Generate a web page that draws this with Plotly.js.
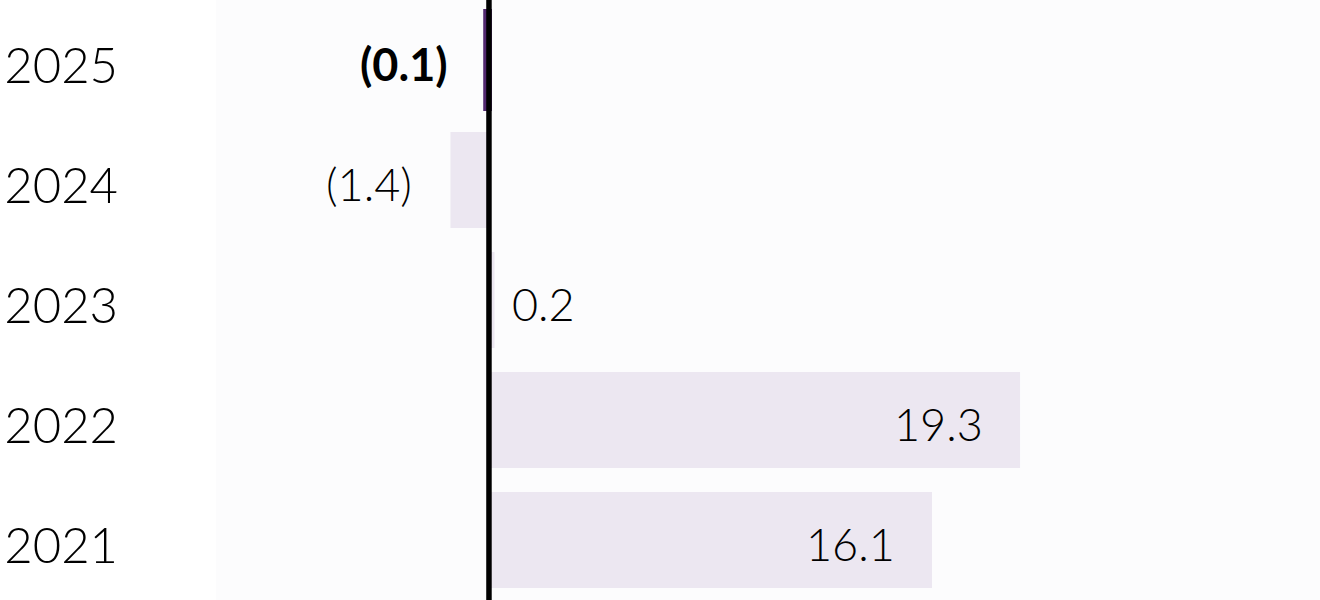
<!DOCTYPE html>
<html>
<head>
<meta charset="utf-8">
<script src="https://cdn.plot.ly/plotly-3.0.1.min.js"></script>
<style>html,body{margin:0;padding:0;background:#fff;}#chart{width:1320px;height:600px;}</style>
</head>
<body>
<div id="chart"></div>
<script>
const years = ["2025", "2024", "2023", "2022", "2021"];
const values = [-0.1, -1.4, 0.2, 19.3, 16.1];
const labels = ["(0.1)", "(1.4)", "0.2", "19.3", "16.1"];
const barColors = ["#51296f", "#ece7f1", "#ece7f1", "#ece7f1", "#ece7f1"];
const barOutline = [6, 0, 0, 0, 0];
const boldFlags = [true, false, false, false, false];

const FONT = "Lato, 'Open Sans', sans-serif";

const annotations = values.map((v, i) => {
  let xanchor, xshift;
  if (v < 0) { xanchor = "right"; xshift = -36; }
  else if (v < 3) { xanchor = "left"; xshift = 16; }
  else { xanchor = "right"; xshift = -35; }
  return {
    x: v, y: i, xref: "x", yref: "y",
    text: boldFlags[i] ? "<b>" + labels[i] + "</b>" : labels[i],
    showarrow: false, xanchor: xanchor, xshift: xshift, yshift: -4, yanchor: "middle",
    font: {family: FONT, size: 45, color: "#000", weight: boldFlags[i] ? 700 : 300}
  };
});

const trace = {
  type: "bar", orientation: "h",
  x: values, y: years,
  marker: {color: barColors, line: {width: barOutline, color: barColors}},
  hoverinfo: "skip"
};

const layout = {
  width: 1320, height: 600,
  margin: {l: 216, r: 0, t: 0, b: 0},
  paper_bgcolor: "#ffffff",
  plot_bgcolor: "#fcfcfd",
  bargap: 0.2,
  showlegend: false,
  xaxis: {
    range: [-9.92, 30.2], showgrid: false, showticklabels: false, ticks: "",
    zeroline: false, fixedrange: true
  },
  yaxis: {
    type: "category", categoryorder: "array", categoryarray: years,
    range: [years.length - 0.5, -0.5], showgrid: false, zeroline: false, ticks: "",
    ticklabelstandoff: 97, ticklabelshift: -6,
    tickfont: {family: FONT, size: 49, color: "#000", weight: 300}
  },
  shapes: [{
    type: "line", xref: "x", yref: "paper", x0: 0, x1: 0, y0: 0, y1: 1,
    line: {color: "#000", width: 5.5}, layer: "above"
  }],
  annotations: annotations
};

Plotly.newPlot("chart", [trace], layout, {displayModeBar: false, staticPlot: true});
</script>
</body>
</html>
